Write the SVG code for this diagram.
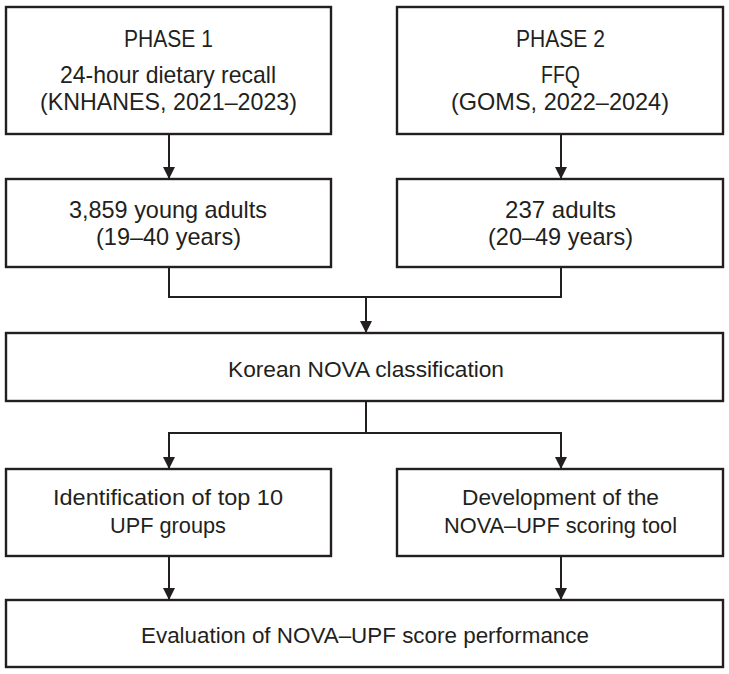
<svg xmlns="http://www.w3.org/2000/svg" width="729" height="674" viewBox="0 0 729 674">
<style>
.box{fill:#fff;stroke:#231f20;stroke-width:2.4}
.t{font-family:"Liberation Sans",Arial,sans-serif;font-size:23.4px;fill:#231f20;text-anchor:middle}
.c{font-family:"Liberation Sans",Arial,sans-serif;font-size:22px;fill:#231f20;text-anchor:middle}
.ln{fill:none;stroke:#231f20;stroke-width:2}
</style>
<defs>
<marker id="ah" markerWidth="12" markerHeight="12" refX="11" refY="6" orient="auto" markerUnits="userSpaceOnUse">
<path d="M0,0 L12,6 L0,12 Z" fill="#231f20"/>
</marker>
</defs>
<rect width="729" height="674" fill="#fff"/>
<g id="connectors">
<path class="ln" d="M169,134 V178" marker-end="url(#ah)"/>
<path class="ln" d="M561,134 V178" marker-end="url(#ah)"/>
<path class="ln" d="M169,267 V297 H561 V267"/>
<path class="ln" d="M366,297 V332" marker-end="url(#ah)"/>
<path class="ln" d="M366,401 V433"/>
<path class="ln" d="M169,468 V433 H561 V468"/>
<path class="ln" d="M169,433 V468" marker-end="url(#ah)"/>
<path class="ln" d="M561,433 V468" marker-end="url(#ah)"/>
<path class="ln" d="M169,556 V599" marker-end="url(#ah)"/>
<path class="ln" d="M561,556 V599" marker-end="url(#ah)"/>
</g>
<g id="phase1">
<rect class="box" x="6" y="7" width="325" height="127"/>
<text class="t" x="168.5" y="47" textLength="89" lengthAdjust="spacingAndGlyphs">PHASE 1</text>
<text class="t" x="168" y="83" textLength="216" lengthAdjust="spacingAndGlyphs">24-hour dietary recall</text>
<text class="t" x="168.5" y="110" textLength="257" lengthAdjust="spacingAndGlyphs">(KNHANES, 2021–2023)</text>
</g>
<g id="phase2">
<rect class="box" x="397" y="7" width="326" height="127"/>
<text class="t" x="560.5" y="47" textLength="89" lengthAdjust="spacingAndGlyphs">PHASE 2</text>
<text class="t" x="560.5" y="83" textLength="39" lengthAdjust="spacingAndGlyphs">FFQ</text>
<text class="t" x="560" y="110" textLength="218" lengthAdjust="spacingAndGlyphs">(GOMS, 2022–2024)</text>
</g>
<g id="young">
<rect class="box" x="6" y="179" width="325" height="88"/>
<text class="t" x="168" y="218" textLength="198" lengthAdjust="spacingAndGlyphs">3,859 young adults</text>
<text class="t" x="168.5" y="245" textLength="145" lengthAdjust="spacingAndGlyphs">(19–40 years)</text>
</g>
<g id="adults">
<rect class="box" x="397" y="179" width="326" height="88"/>
<text class="t" x="560.5" y="218" textLength="111" lengthAdjust="spacingAndGlyphs">237 adults</text>
<text class="t" x="560.5" y="245" textLength="145" lengthAdjust="spacingAndGlyphs">(20–49 years)</text>
</g>
<g id="nova">
<rect class="box" x="6" y="333" width="717" height="68"/>
<text class="c" x="366" y="377" textLength="276" lengthAdjust="spacingAndGlyphs">Korean NOVA classification</text>
</g>
<g id="top10">
<rect class="box" x="6" y="469" width="325" height="87"/>
<text class="c" x="168" y="505" textLength="230" lengthAdjust="spacingAndGlyphs">Identification of top 10</text>
<text class="c" x="168" y="533" textLength="116" lengthAdjust="spacingAndGlyphs">UPF groups</text>
</g>
<g id="develop">
<rect class="box" x="397" y="469" width="326" height="87"/>
<text class="c" x="560.5" y="505" textLength="197" lengthAdjust="spacingAndGlyphs">Development of the</text>
<text class="c" x="560.5" y="533" textLength="233" lengthAdjust="spacingAndGlyphs">NOVA–UPF scoring tool</text>
</g>
<g id="eval">
<rect class="box" x="6" y="600" width="717" height="67"/>
<text class="c" x="365" y="643" textLength="448" lengthAdjust="spacingAndGlyphs">Evaluation of NOVA–UPF score performance</text>
</g>
</svg>
